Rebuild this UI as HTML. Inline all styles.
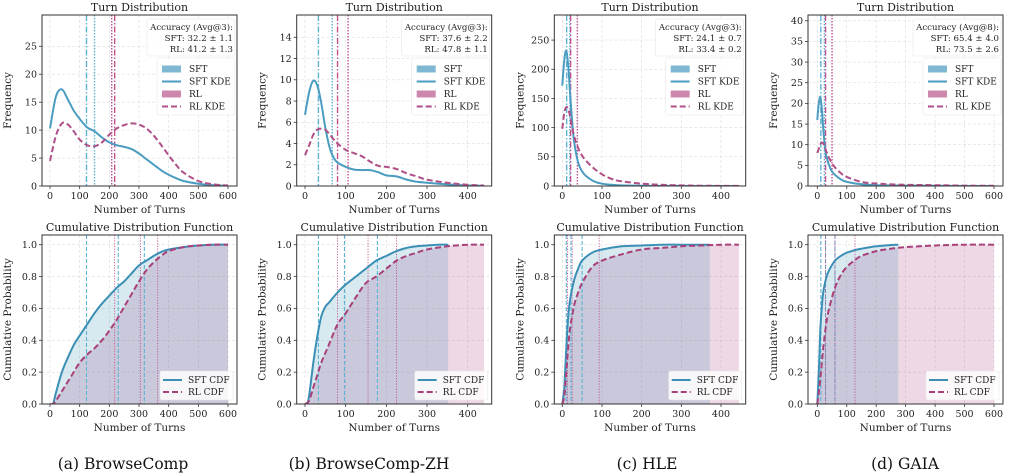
<!DOCTYPE html>
<html><head><meta charset="utf-8">
<style>
body{margin:0;background:#fff;}
svg{display:block;font-family:"DejaVu Serif","Liberation Serif",serif;}
</style></head>
<body>
<svg id="fig" width="1013" height="475" viewBox="0 0 1013 475" xmlns="http://www.w3.org/2000/svg"></svg>
<script>
// ---------- data ----------
const panelIds = ['a','b','c','d'];
const captions = ['(a) BrowseComp','(b) BrowseComp-ZH','(c) HLE','(d) GAIA'];
const accHeader = ['Accuracy (Avg@3):','Accuracy (Avg@3):','Accuracy (Avg@3):','Accuracy (Avg@8):'];
const accSFT = ['SFT: 32.2 ± 1.1','SFT: 37.6 ± 2.2','SFT: 24.1 ± 0.7','SFT: 65.4 ± 4.0'];
const accRL = ['RL: 41.2 ± 1.3','RL: 47.8 ± 1.1','RL: 33.4 ± 0.2','RL: 73.5 ± 2.6'];

const xTicksA = [0,100,200,300,400,500,600];
const xTicksB = [0,100,200,300,400];
const yTicksFreqA = [0,5,10,15,20,25];
const yTicksFreqB = [0,2,4,6,8,10,12,14];
const yTicksFreqC = [0,50,100,150,200,250];
const yTicksFreqD = [0,5,10,15,20,25,30,35,40];
const yTicksCdf = [0,0.2,0.4,0.6,0.8,1.0];

// KDE curves
const kdeXa = [0,20,40,60,80,100,125,150,175,200,225,250,275,300,325,350,375,400,425,450,500,550,600];
const kdeSFTa = [10.3,16,17.3,15.5,13.5,12,10.5,9.8,8.7,7.8,7.3,7,6.6,5.8,4.8,3.8,2.8,2,1.4,0.9,0.4,0.15,0.05];
const kdeRLa = [4.5,9,11.2,11,9.8,8.3,7.3,7.1,7.8,9.2,10.3,10.9,11.2,11,10.3,9,7.3,5.5,3.8,2.4,0.9,0.3,0.1];
const kdeXb = [0,10,20,30,40,50,60,70,80,100,120,140,160,180,200,225,250,275,300,350,400,440];
const kdeSFTb = [6.7,8.8,9.9,9.5,7.8,5.5,3.7,2.7,2.2,1.8,1.55,1.5,1.5,1.3,1.0,0.9,0.6,0.4,0.3,0.15,0.05,0.02];
const kdeRLb = [2.9,3.8,4.8,5.3,5.4,5.3,4.9,4.4,4.0,3.4,3.1,2.8,2.3,1.9,1.8,1.6,1.2,0.9,0.6,0.3,0.12,0.05];
const kdeXc = [0,5,10,15,20,25,30,40,50,60,80,100,125,150,200,250,300,350,400,445];
const kdeSFTc = [172,215,232,205,155,110,75,40,25,17,8,4,2,1,0.5,0.2,0.1,0,0,0];
const kdeRLc = [98,125,135,132,118,100,85,65,52,43,30,20,12,8,4,2,1,0.5,0.2,0.1];
const kdeXd = [0,5,10,15,20,25,30,40,50,60,80,100,150,200,300,400,500,600];
const kdeSFTd = [16,20,21.5,19,14,10,7.5,5,3.5,2.7,1.6,1.0,0.4,0.2,0.1,0.05,0,0];
const kdeRLd = [8,9,10,10.5,10.3,9.5,8.5,6.8,5.5,4.5,3.1,2.2,1.0,0.6,0.3,0.2,0.1,0.05];

// mean (dash-dot) / median (dotted) lines
const meanSFT = [123,33,11,12];
const medSFT = [150,67,19,24];
const meanRL = [218,80,21,28];
const medRL = [208,106,38,50];

// CDFs
const cdfXsa = [0,10,20,40,60,80,100,125,150,175,200,225,250,275,300,325,350,375,400,450,500,550,600];
const cdfSFTa = [0,0,0.07,0.2,0.29,0.37,0.43,0.5,0.57,0.63,0.68,0.73,0.77,0.82,0.87,0.9,0.93,0.955,0.97,0.985,0.995,1,1];
const cdfXra = cdfXsa;
const cdfRLa = [0,0,0.02,0.08,0.14,0.2,0.26,0.31,0.35,0.4,0.46,0.53,0.61,0.69,0.77,0.84,0.89,0.93,0.96,0.985,0.995,1,1];
const cdfXsb = [0,5,10,20,30,40,50,60,80,100,125,150,175,200,225,250,275,300,325,352];
const cdfSFTb = [0,0,0.05,0.25,0.42,0.55,0.61,0.64,0.7,0.75,0.8,0.85,0.9,0.93,0.96,0.98,0.99,0.995,1,1];
const cdfXrb = [0,10,20,30,40,50,60,80,100,125,150,175,200,225,250,275,300,350,400,440];
const cdfRLb = [0,0.02,0.1,0.18,0.26,0.32,0.38,0.5,0.57,0.67,0.76,0.8,0.85,0.9,0.93,0.95,0.97,0.99,1,1];
const cdfXsc = [0,5,10,15,20,30,40,50,75,100,150,200,250,300,372];
const cdfSFTc = [0,0.1,0.35,0.55,0.66,0.78,0.85,0.9,0.95,0.97,0.99,0.995,1,1,1];
const cdfXrc = [0,5,10,15,20,30,40,50,75,100,150,200,250,300,350,400,445];
const cdfRLc = [0,0.05,0.2,0.36,0.48,0.62,0.7,0.76,0.86,0.9,0.94,0.97,0.98,0.99,0.995,1,1];
const cdfXsd = [0,5,10,15,20,30,40,60,80,100,125,150,200,250,275];
const cdfSFTd = [0,0.2,0.45,0.6,0.7,0.79,0.84,0.9,0.93,0.95,0.965,0.975,0.99,0.998,1];
const cdfXrd = [0,10,20,30,40,60,80,100,125,150,200,250,300,400,500,600];
const cdfRLd = [0,0.15,0.35,0.5,0.6,0.73,0.81,0.86,0.9,0.93,0.96,0.975,0.985,0.995,1,1];

// percentile lines on CDF (25/50/75)
const pctSFT = [[123,230,318],[33,97,178],[10,22,50],[12,28,60]];
const pctRL = [[218,305,363],[80,155,225],[13,25,93],[28,60,128]];

// ---------- layout ----------
const SVGNS='http://www.w3.org/2000/svg';
const fig=document.getElementById('fig');
const C_SFT='#3b8fb5', C_RL='#a8407a', C_SFTv='#5db3d6', C_RLv='#c0528f';
function el(tag,attrs,parent){const e=document.createElementNS(SVGNS,tag);for(const k in attrs)e.setAttribute(k,attrs[k]);(parent||fig).appendChild(e);return e;}
function txt(s,attrs,parent){const e=el('text',attrs,parent);e.textContent=s;return e;}

const axL=[42,296.7,554.3,808], axR=[237,491.7,745.7,1003];
const x0px=[50,305,562.3,817.3], xScale=[178/600,162.7/400,158.7/400,176.7/600];
const freqMax=[30.6,16.1,293,41.4];
const xTicksAll=[xTicksA,xTicksB,xTicksB,xTicksA];
const yTicksFreq=[yTicksFreqA,yTicksFreqB,yTicksFreqC,yTicksFreqD];
const kdeX=[kdeXa,kdeXb,kdeXc,kdeXd], kdeS=[kdeSFTa,kdeSFTb,kdeSFTc,kdeSFTd], kdeR=[kdeRLa,kdeRLb,kdeRLc,kdeRLd];
const cXs=[cdfXsa,cdfXsb,cdfXsc,cdfXsd], cS=[cdfSFTa,cdfSFTb,cdfSFTc,cdfSFTd];
const cXr=[cdfXra,cdfXrb,cdfXrc,cdfXrd], cR=[cdfRLa,cdfRLb,cdfRLc,cdfRLd];
const capX=[123,369,647,905];

function pathOf(xs,ys,fx,fy){
  const P=xs.map((x,i)=>[fx(x),fy(ys[i])]);
  let d='M'+P[0][0].toFixed(1)+','+P[0][1].toFixed(1);
  for(let i=0;i<P.length-1;i++){
    const p0=P[Math.max(0,i-1)],p1=P[i],p2=P[i+1],p3=P[Math.min(P.length-1,i+2)];
    const t=1/6;
    let c1=[p1[0]+(p2[0]-p0[0])*t,p1[1]+(p2[1]-p0[1])*t];
    let c2=[p2[0]-(p3[0]-p1[0])*t,p2[1]-(p3[1]-p1[1])*t];
    c1[0]=Math.min(Math.max(c1[0],p1[0]),p2[0]);c2[0]=Math.min(Math.max(c2[0],p1[0]),p2[0]);
    d+=` C${c1[0].toFixed(1)},${c1[1].toFixed(1)} ${c2[0].toFixed(1)},${c2[1].toFixed(1)} ${p2[0].toFixed(1)},${p2[1].toFixed(1)}`;
  }
  return d;
}

function drawAxes(g,p,T,B,ymax,yTicks,title,ylabel,fmt){
  const L=axL[p],R=axR[p];
  const fx=v=>x0px[p]+v*xScale[p];
  const fy=v=>B-(v/ymax)*(B-T);
  const clipId='clip'+p+T;
  const cp=el('clipPath',{id:clipId},g);el('rect',{x:L,y:T,width:R-L,height:B-T},cp);
  xTicksAll[p].forEach(t=>{el('line',{x1:fx(t),x2:fx(t),y1:T,y2:B,stroke:'#ddd','stroke-width':0.6,'stroke-dasharray':'3,2'},g);});
  yTicks.forEach(t=>{el('line',{x1:L,x2:R,y1:fy(t),y2:fy(t),stroke:'#ddd','stroke-width':0.6,'stroke-dasharray':'3,2'},g);});
  const tg=el('g',{'font-size':'9.5',fill:'#222'},g);
  
  
  xTicksAll[p].forEach(t=>{el('line',{x1:fx(t),x2:fx(t),y1:B,y2:B+3,stroke:'#333','stroke-width':0.8},g);
    txt(String(t),{x:fx(t),y:B+13,'text-anchor':'middle'},tg);});
  const yg=el('g',{'font-size':'9.5',fill:'#222'},g);
  
  
  yTicks.forEach(t=>{el('line',{x1:L-3,x2:L,y1:fy(t),y2:fy(t),stroke:'#333','stroke-width':0.8},g);
    txt(fmt(t),{x:L-5,y:fy(t)+3.3,'text-anchor':'end'},yg);});
  const tt=txt(title,{x:(L+R)/2,y:T-4,'text-anchor':'middle','font-size':'11',fill:'#222'},g);
  
  
  const xl=txt('Number of Turns',{x:(L+R)/2,y:B+27,'text-anchor':'middle','font-size':'10.5',fill:'#222'},g);
  
  
  const yx=L-31, yc=(T+B)/2;
  const yl=txt(ylabel,{x:yx,y:yc,'text-anchor':'middle','font-size':'10.5',fill:'#222',transform:`rotate(-90 ${yx} ${yc})`},g);
  
  
  return {fx,fy,clipId,L,R};
}

for(let p=0;p<4;p++){
  const gt=el('g',{});
  
  
  const T=15,B=186;
  const a=drawAxes(gt,p,T,B,freqMax[p],yTicksFreq[p],'Turn Distribution','Frequency',t=>String(t));
  const cg=el('g',{'clip-path':`url(#${a.clipId})`},gt);
  [[meanSFT[p],C_SFTv,'6,2,1.5,2'],[medSFT[p],C_SFTv,'1.5,1.5'],[meanRL[p],C_RLv,'6,2,1.5,2'],[medRL[p],C_RLv,'1.5,1.5']].forEach((v,i)=>{
    const ln=el('line',{x1:a.fx(v[0]),x2:a.fx(v[0]),y1:T,y2:B,stroke:v[1],'stroke-width':1.4,'stroke-dasharray':v[2]},cg);
    
    
  });
  const ks=el('path',{d:pathOf(kdeX[p],kdeS[p],a.fx,a.fy),fill:'none',stroke:'#4a9cc0','stroke-width':2},cg);
  
  
  const kr=el('path',{d:pathOf(kdeX[p],kdeR[p],a.fx,a.fy),fill:'none',stroke:'#b04f87','stroke-width':2,'stroke-dasharray':'6,3'},cg);
  
  
  el('rect',{x:a.L,y:T,width:a.R-a.L,height:B-T,fill:'none',stroke:'#333','stroke-width':1},gt);
  const R=a.R;
  const ab=el('g',{},gt);
  
  
  el('rect',{x:R-90,y:19,width:88,height:37,rx:2,fill:'#fff','fill-opacity':0.85,stroke:'#e6e6e6','stroke-width':0.6},ab);
  txt(accHeader[p],{x:R-4,y:30,'text-anchor':'end','font-size':'8.6',fill:'#222'},ab);
  txt(accSFT[p],{x:R-4,y:41,'text-anchor':'end','font-size':'8.6',fill:'#222'},ab);
  txt(accRL[p],{x:R-4,y:52,'text-anchor':'end','font-size':'8.6',fill:'#222'},ab);
  const lg=el('g',{},gt);
  
  
  el('rect',{x:R-80,y:58,width:78,height:57,rx:2,fill:'#fff','fill-opacity':0.85,stroke:'#e6e6e6','stroke-width':0.6},lg);
  const rows=[['SFT','rect','#7fb8d2'],['SFT KDE','line','#4a9cc0'],['RL','rect','#cc88ad'],['RL KDE','dash','#b04f87']];
  rows.forEach((r,i)=>{const y=69+i*12.5;const hx=R-75;
    if(r[1]==='rect')el('rect',{x:hx,y:y-3.5,width:19,height:7,fill:r[2]},lg);
    else el('line',{x1:hx,x2:hx+19,y1:y,y2:y,stroke:r[2],'stroke-width':2,'stroke-dasharray':r[1]==='dash'?'6,3':'none'},lg);
    txt(r[0],{x:R-48,y:y+3.2,'font-size':'9',fill:'#222'},lg);});

  const gb=el('g',{});
  
  
  const T2=235,B2=404;
  const b=drawAxes(gb,p,T2,B2,1.061,yTicksCdf,'Cumulative Distribution Function','Cumulative Probability',t=>t.toFixed(1));
  const cg2=el('g',{'clip-path':`url(#${b.clipId})`},gb);
  const fillPath=(xs,ys)=>pathOf(xs,ys,b.fx,b.fy)+` L${b.fx(xs[xs.length-1]).toFixed(1)},${B2} L${b.fx(xs[0]).toFixed(1)},${B2} Z`;
  const fr=el('path',{d:fillPath(cXr[p],cR[p]),fill:'#b04f87','fill-opacity':0.22},cg2);
  
  
  const fs=el('path',{d:fillPath(cXs[p],cS[p]),fill:'#3b8fb5','fill-opacity':0.2},cg2);
  
  
  pctSFT[p].forEach(v=>{el('line',{x1:b.fx(v),x2:b.fx(v),y1:T2,y2:B2,stroke:C_SFTv,'stroke-width':1.1,'stroke-dasharray':'4,2'},cg2);});
  pctRL[p].forEach(v=>{el('line',{x1:b.fx(v),x2:b.fx(v),y1:T2,y2:B2,stroke:C_RLv,'stroke-width':0.9,'stroke-dasharray':'1.2,1.5'},cg2);});
  const ls=el('path',{d:pathOf(cXs[p],cS[p],b.fx,b.fy),fill:'none',stroke:C_SFT,'stroke-width':2},cg2);
  
  
  const lr=el('path',{d:pathOf(cXr[p],cR[p],b.fx,b.fy),fill:'none',stroke:C_RL,'stroke-width':2,'stroke-dasharray':'6,3'},cg2);
  
  
  el('rect',{x:b.L,y:T2,width:b.R-b.L,height:B2-T2,fill:'none',stroke:'#333','stroke-width':1},gb);
  const lg2=el('g',{},gb);
  
  
  el('rect',{x:b.R-77,y:371,width:73,height:29,rx:2,fill:'#fff','fill-opacity':0.85,stroke:'#e6e6e6','stroke-width':0.6},lg2);
  el('line',{x1:b.R-74,x2:b.R-55,y1:380,y2:380,stroke:C_SFT,'stroke-width':2},lg2);
  txt('SFT CDF',{x:b.R-49,y:383.2,'font-size':'9',fill:'#222'},lg2);
  el('line',{x1:b.R-74,x2:b.R-55,y1:392,y2:392,stroke:C_RL,'stroke-width':2,'stroke-dasharray':'6,3'},lg2);
  txt('RL CDF',{x:b.R-49,y:395.2,'font-size':'9',fill:'#222'},lg2);

  const cap=txt(captions[p],{x:capX[p],y:469,'text-anchor':'middle','font-size':'15.5','font-family':'"DejaVu Serif","Liberation Serif",serif',fill:'#111'});
  
  
}
</script>
</body></html>
